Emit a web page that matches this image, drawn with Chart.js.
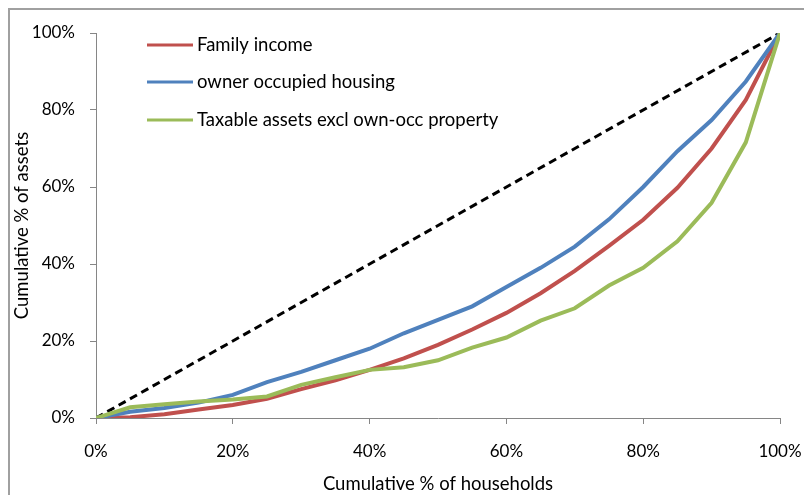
<!DOCTYPE html>
<html>
<head>
<meta charset="utf-8">
<script src="https://cdn.jsdelivr.net/npm/chart.js@4/dist/chart.umd.min.js"></script>
<style>
  body { margin: 0; background: #fff; overflow: hidden; }
  #wrap { position: relative; width: 804px; height: 495px; }
  #frame { position: absolute; left: 8px; top: 8px; width: 900px; height: 600px; border: 2px solid #a0a0a0; box-sizing: border-box; pointer-events: none; }
</style>
</head>
<body>
<div id="wrap">
  <canvas id="lorenz" width="804" height="495"></canvas>
  <div id="frame"></div>
</div>
<script>
// cumulative % of households (x)
const households = [0, 5, 10, 15, 20, 25, 30, 35, 40, 45, 50, 55, 60, 65, 70, 75, 80, 85, 90, 95, 100];

// cumulative % of assets (y)
const familyIncome = [0, 0.2, 1, 2.2, 3.4, 5, 7.5, 9.8, 12.5, 15.5, 19, 23, 27.3, 32.4, 38.2, 44.7, 51.5, 59.8, 70, 82.6, 100];
const ownerHousing = [0, 1.6, 2.6, 4, 6, 9.3, 12, 15, 18, 22, 25.5, 29, 34, 39, 44.5, 51.6, 60, 69.3, 77.4, 87.4, 100];
const taxableAssets = [0, 2.8, 3.6, 4.3, 4.8, 5.6, 8.6, 10.6, 12.5, 13.2, 15, 18.3, 20.9, 25.3, 28.5, 34.4, 39, 45.9, 55.9, 71.6, 100];
const equality = [0, 100];
const equalityX = [0, 100];

const seriesNames = ['Family income', 'owner occupied housing', 'Taxable assets excl own-occ property'];
const seriesColors = ['#C0504D', '#4F81BD', '#9BBB59'];

const font = 'Lato';

function pts(xs, ys) {
    return xs.map((x, i) => ({ x: x, y: ys[i] }));
}

//legenda dentro del grafico
const legendaPlugin = {
    id: 'legenda',
    afterDraw(chart) {
        const ctx = chart.ctx;
        const rows = [45, 82, 120];
        ctx.save();
        seriesNames.forEach((name, i) => {
            ctx.strokeStyle = seriesColors[i];
            ctx.lineWidth = 3;
            ctx.beginPath();
            ctx.moveTo(147, rows[i]);
            ctx.lineTo(193, rows[i]);
            ctx.stroke();
            ctx.fillStyle = '#000';
            ctx.font = '18.5px ' + font;
            ctx.textBaseline = 'middle';
            ctx.fillText(name, 197, rows[i]);
        });
        ctx.restore();
    }
};

const ctx = document.getElementById('lorenz').getContext('2d');

const data = {
    datasets: [
        {
            label: seriesNames[2],
            data: pts(households, taxableAssets),
            borderColor: seriesColors[2],
            borderWidth: 4,
            order: 0,
        },
        {
            label: seriesNames[1],
            data: pts(households, ownerHousing),
            borderColor: seriesColors[1],
            borderWidth: 4,
            order: 1,
        },
        {
            label: seriesNames[0],
            data: pts(households, familyIncome),
            borderColor: seriesColors[0],
            borderWidth: 4,
            order: 2,
        },
        {
            label: 'equality',
            data: pts(equalityX, equality),
            borderColor: '#000',
            borderWidth: 3,
            borderDash: [8, 5],
            order: 3,
        },
    ],
};

const config = {
    type: 'line',
    data: data,
    plugins: [legendaPlugin],
    options: {
        responsive: false,
        animation: false,
        devicePixelRatio: 1,
        elements: { point: { radius: 0 }, line: { tension: 0 } },
        layout: { padding: { top: 33, right: 24, left: 0, bottom: 0 } },
        plugins: { legend: { display: false }, tooltip: { enabled: false } },
        scales: {
            x: {
                type: 'linear',
                min: 0,
                max: 100,
                afterFit: function (scale) {
                    scale.height = 77;
                    scale.paddingLeft = 0;
                    scale.paddingRight = 0;
                },
                grid: { drawOnChartArea: false, drawTicks: true, tickLength: 6, color: '#868686' },
                border: { color: '#868686', width: 1 },
                ticks: {
                    stepSize: 20,
                    padding: 17,
                    color: '#000',
                    font: { family: font, size: 17 },
                    callback: function (value) { return value + '%'; }
                },
                title: {
                    display: true,
                    text: 'Cumulative % of households',
                    color: '#000',
                    font: { family: font, size: 18.5 },
                    padding: { top: 0, bottom: 0 }
                }
            },
            y: {
                min: 0,
                max: 100,
                afterFit: function (scale) {
                    scale.width = 96;
                    scale.paddingTop = 0;
                    scale.paddingBottom = 0;
                },
                grid: { drawOnChartArea: false, drawTicks: true, tickLength: 6, color: '#868686' },
                border: { color: '#868686', width: 1 },
                ticks: {
                    stepSize: 20,
                    padding: 15,
                    color: '#000',
                    font: { family: font, size: 17 },
                    callback: function (value) { return value + '%'; }
                },
                title: {
                    display: true,
                    text: 'Cumulative % of assets',
                    color: '#000',
                    font: { family: font, size: 18.5 },
                    padding: { top: 11, bottom: 0 }
                }
            }
        }
    }
};

const myChart = new Chart(ctx, config);
</script>
</body>
</html>
